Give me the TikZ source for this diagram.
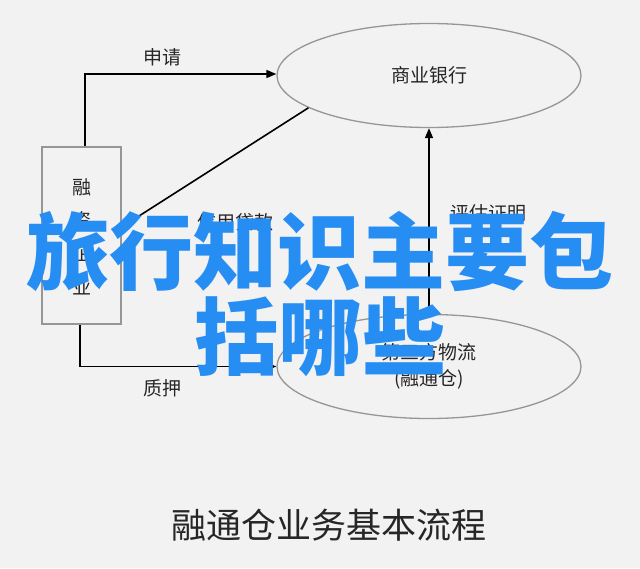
\documentclass[tikz,border=0pt]{standalone}
\usepackage{fontspec}
\usetikzlibrary{shapes.geometric,arrows.meta}
\newfontfamily\cjk{Noto Sans CJK SC}
\definecolor{bgc}{RGB}{242,242,243}
\definecolor{edgec}{RGB}{150,150,150}
\definecolor{bluec}{RGB}{38,141,242}
\begin{document}
\begin{tikzpicture}[x=1pt,y=-1pt,
  lbl/.style={font=\cjk\fontsize{19}{22}\selectfont, text=black!85, inner sep=0pt},
  oval/.style={ellipse, draw=edgec, line width=1.3pt, minimum width=304pt, minimum height=104pt, inner sep=0pt, font=\cjk\fontsize{19}{22}\selectfont, text=black!85},
  arr/.style={draw=black, line width=1.6pt, -{Triangle[length=10pt,width=8pt]}},
  plain/.style={draw=black, line width=1.6pt},
  overlay/.style={font=\cjk\bfseries\fontsize{84}{90}\selectfont, text=bluec, inner sep=0pt}]
\fill[bgc] (0,0) rectangle (640,568);
\useasboundingbox (0,0) rectangle (640,568);

\node[draw=edgec, line width=1.6pt, fill=bgc, minimum width=79pt, minimum height=177pt, inner sep=0pt] (box) at (81.5,235.5) {};
\node[lbl] (t1) at (82,187) {融};
\node[lbl] (t2) at (82,220) {资};
\node[lbl] (t3) at (82,253) {企};
\node[lbl] (t4) at (82,287) {业};

\node[oval] (bank) at (429,75.5) {商业银行};
\node[oval, align=center] (wl) at (429,366.5) {第三方物流\\[4pt](融通仓)};

\draw[arr] ([xshift=3.5pt]box.north) |- ([yshift=1.5pt]bank.west);
\draw[arr] ([xshift=-1.5pt]box.south) |- (wl.west);
\draw[arr] (wl.north) -- (bank.south);
\draw[arr] (bank.195) -- ([yshift=8.5pt]box.east);

\node[lbl] (la) at (162,57) {申请};
\node[lbl] (lb) at (235,222) {信用贷款};
\node[lbl] (lc) at (488,213) {评估证明};
\node[lbl] (ld) at (162,388) {质押};

\node[font=\cjk\fontsize{35}{40}\selectfont, text=black!85, inner sep=0pt] (title) at (329,525) {融通仓业务基本流程};

\node[overlay] (ov1) at (320,251) {旅行知识主要包};
\node[overlay] (ov2) at (320,337) {括哪些};
\end{tikzpicture}
\end{document}
